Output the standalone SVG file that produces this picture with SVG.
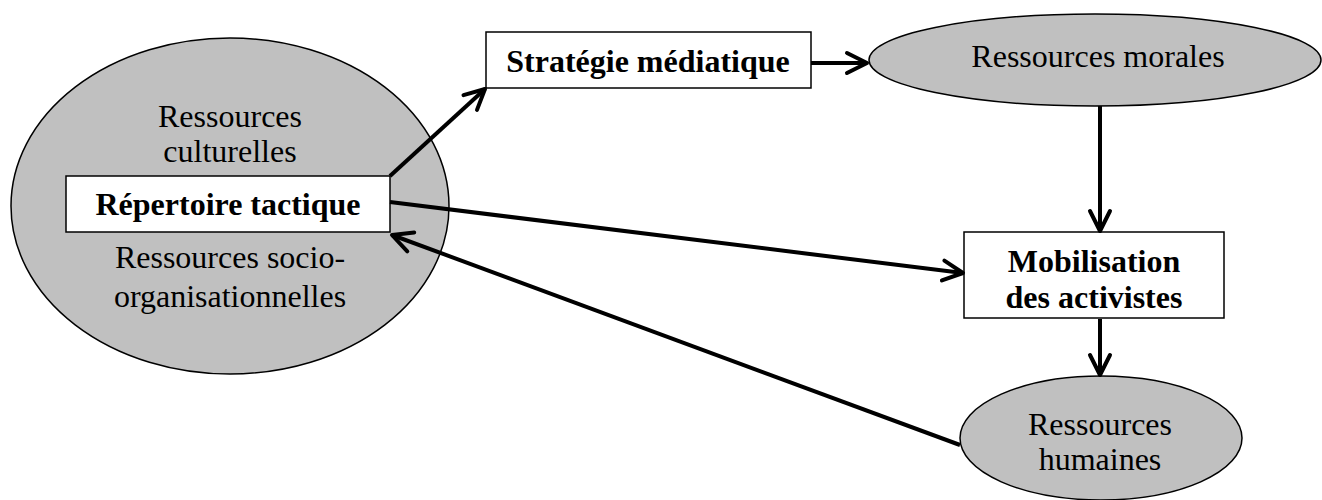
<svg xmlns="http://www.w3.org/2000/svg" width="1322" height="500" viewBox="0 0 1322 500">
<style>
.ell{fill:#c0c0c0;stroke:#000;stroke-width:1.5}
.box{fill:#fff;stroke:#000;stroke-width:1.5}
.t{font-family:"Liberation Serif","Times New Roman",serif;font-size:32px;fill:#000;text-anchor:middle}
.b{font-weight:bold}
.c{fill:none;stroke:#000;stroke-width:4;marker-end:url(#ah)}
</style>
<defs>
<marker id="ah" markerUnits="userSpaceOnUse" viewBox="-26 -16 30 32" refX="0" refY="0" markerWidth="30" markerHeight="32" orient="auto">
<path d="M-20,-10 L0,0 L-20,10" fill="none" stroke="#000" stroke-width="4" stroke-linejoin="round" stroke-linecap="round"/>
</marker>
</defs>
<g id="node-ressources-culturelles">
<ellipse class="ell" cx="230" cy="206" rx="219" ry="168"/>
<text class="t" x="230" y="127">Ressources</text>
<text class="t" x="230" y="162">culturelles</text>
<text class="t" x="230" y="268">Ressources socio-</text>
<text class="t" x="230" y="307">organisationnelles</text>
</g>
<g id="node-repertoire">
<rect class="box" x="66" y="176" width="324" height="56"/>
<text class="t b" x="228" y="215">Répertoire tactique</text>
</g>
<g id="node-strategie">
<rect class="box" x="486" y="32" width="325" height="56"/>
<text class="t b" x="648" y="72">Stratégie médiatique</text>
</g>
<g id="node-morales">
<ellipse class="ell" cx="1095" cy="60" rx="226" ry="46"/>
<text class="t" x="1098" y="67">Ressources morales</text>
</g>
<g id="node-mobilisation">
<rect class="box" x="964" y="232" width="260" height="86"/>
<text class="t b" x="1094" y="272">Mobilisation</text>
<text class="t b" x="1094" y="308">des activistes</text>
</g>
<g id="node-humaines">
<ellipse class="ell" cx="1101" cy="438" rx="141" ry="62"/>
<text class="t" x="1100" y="435">Ressources</text>
<text class="t" x="1100" y="470">humaines</text>
</g>
<g id="connectors">
<line class="c" x1="390" y1="176" x2="485" y2="89"/>
<line class="c" x1="811" y1="63" x2="867" y2="63"/>
<line class="c" x1="1100" y1="106" x2="1100" y2="231"/>
<line class="c" x1="390" y1="202" x2="963" y2="273"/>
<line class="c" x1="1100" y1="319" x2="1100" y2="375"/>
<line class="c" x1="960" y1="445" x2="392" y2="235"/>
</g>
</svg>
